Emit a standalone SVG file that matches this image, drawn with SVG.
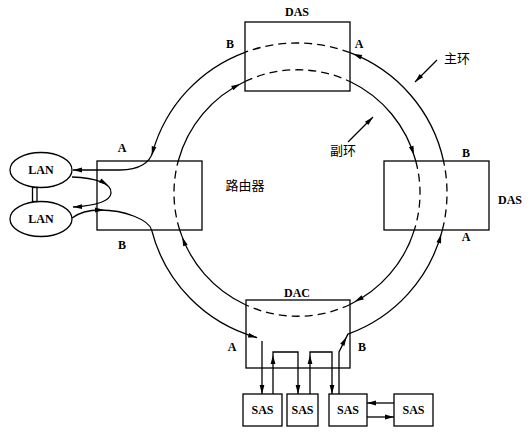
<svg xmlns="http://www.w3.org/2000/svg" width="531" height="434" viewBox="0 0 531 434">
<style>
.bx{fill:#fff;stroke:#000;stroke-width:1.3}
.ln{fill:none;stroke:#000;stroke-width:1.3}
.ds{fill:none;stroke:#000;stroke-width:1.3;stroke-dasharray:8 5}
.lb{font-family:"Liberation Serif",serif;font-weight:bold;font-size:12px;text-anchor:middle;fill:#000}
.cj{font-family:"Noto Sans CJK SC",sans-serif;font-size:13px;text-anchor:middle;fill:#000}
</style>
<defs>
<path id="ah" d="M0,0 L-9,-2.4 L-9,2.4 Z" fill="#000"/>
</defs>
<rect width="531" height="434" fill="#fff"/>
<g id="das-top"><rect class="bx" x="245" y="22" width="105" height="69"/><text class="lb" x="297" y="16">DAS</text><text class="lb" x="230" y="48">B</text><text class="lb" x="359" y="48">A</text></g>
<g id="das-right"><rect class="bx" x="384" y="161" width="105" height="69"/><text class="lb" x="466" y="157">B</text><text class="lb" x="510" y="204">DAS</text><text class="lb" x="466" y="241">A</text></g>
<g id="router"><rect class="bx" x="97" y="161" width="105" height="69"/><text class="lb" x="122" y="152">A</text><text class="lb" x="122" y="249">B</text><text class="cj" x="245" y="190">路由器</text></g>
<g id="dac"><rect class="bx" x="246" y="300" width="104" height="68"/><text class="lb" x="297" y="297">DAC</text><text class="lb" x="232" y="351">A</text><text class="lb" x="362" y="351">B</text></g>
<g id="lan1"><ellipse class="bx" cx="41" cy="170" rx="31" ry="17.5"/><text class="lb" x="41" y="174">LAN</text></g>
<g id="lan2"><ellipse class="bx" cx="41" cy="219" rx="31" ry="17.5"/><text class="lb" x="41" y="223">LAN</text></g>
<g id="lan-link"><rect class="bx" x="32.5" y="187.5" width="4.5" height="14"/></g>
<g id="sas1"><rect class="bx" x="243" y="394" width="39" height="32"/><text class="lb" x="262.5" y="414">SAS</text></g>
<g id="sas2"><rect class="bx" x="287" y="394" width="31" height="32"/><text class="lb" x="302.5" y="414">SAS</text></g>
<g id="sas3"><rect class="bx" x="329" y="394" width="38" height="32"/><text class="lb" x="348" y="414">SAS</text></g>
<g id="sas4"><rect class="bx" x="394" y="394" width="39" height="32"/><text class="lb" x="413.5" y="414">SAS</text></g>
<g id="labels"><text class="cj" x="457" y="63">主环</text><text class="cj" x="343" y="155">副环</text></g>
<g id="connectors">
<!-- outer (primary) ring -->
<path class="ln" d="M339,394 L339,352 L347.9,334.1 A150,150 0 0 0 442.35,230.05"/>
<path class="ds" d="M442.35,230.05 A150,150 0 0 0 443.55,161.04"/>
<path class="ln" d="M443.55,161.04 A150,150 0 0 0 350.02,52.68"/>
<path class="ds" d="M350.02,52.68 A150,150 0 0 0 244.96,52.31"/>
<path class="ln" d="M244.96,52.31 A150,150 0 0 0 152.67,152.16 C150,162 140,170 120,170 L73,170"/>
<path class="ln" d="M72,177 C95,178 112,183 111,193 C110,203 90,206 73,207"/>
<path class="ln" d="M72,218 C80,212 90,210 100,210 C125,210 149,220 151.65,230.05 A150,150 0 0 0 257.16,337.62"/>
<path class="ln" d="M262,341 L262,394"/>
<path class="ln" d="M273,394 L273,352 L298,352 L298,394"/>
<path class="ln" d="M310,394 L310,352 L332,352 L332,394"/>
<path class="ln" d="M394,403 L367,403"/>
<path class="ln" d="M367,417 L394,417"/>
<!-- inner (secondary) ring -->
<path class="ln" d="M245,304.47 A123,123 0 0 1 179.69,230"/>
<path class="ds" d="M179.69,230 A123,123 0 0 1 178.23,161"/>
<path class="ln" d="M178.23,161 A123,123 0 0 1 245,81.53"/>
<path class="ds" d="M245,81.53 A123,123 0 0 1 350,81.53"/>
<path class="ln" d="M350,81.53 A123,123 0 0 1 415.77,161"/>
<path class="ds" d="M415.77,161 A123,123 0 0 1 414.31,230"/>
<path class="ln" d="M414.31,230 A123,123 0 0 1 350,304.47"/>
<path class="ds" d="M350,304.47 A123,123 0 0 1 245,304.47"/>
<!-- pointers -->
<path class="ln" d="M437,60 L415,82"/>
<path class="ln" d="M348,142 L373,117"/>
<!-- arrowheads -->
<use href="#ah" transform="translate(353,53.8) rotate(-158)"/>
<use href="#ah" transform="translate(441.2,234.3) rotate(-74)"/>
<use href="#ah" transform="translate(151.8,155.4) rotate(104.5)"/>
<use href="#ah" transform="translate(73,170) rotate(180)"/>
<use href="#ah" transform="translate(108,185) rotate(30)"/>
<use href="#ah" transform="translate(73,207) rotate(178)"/>
<use href="#ah" transform="translate(104,210) rotate(0)"/>
<use href="#ah" transform="translate(257.16,337.62) rotate(15.4)"/>
<use href="#ah" transform="translate(262,394) rotate(90)"/>
<use href="#ah" transform="translate(273,355) rotate(-90)"/>
<use href="#ah" transform="translate(298,394) rotate(90)"/>
<use href="#ah" transform="translate(310,355) rotate(-90)"/>
<use href="#ah" transform="translate(332,394) rotate(90)"/>
<use href="#ah" transform="translate(346.5,337) rotate(-62)"/>
<use href="#ah" transform="translate(367,403) rotate(180)"/>
<use href="#ah" transform="translate(394,417) rotate(0)"/>
<use href="#ah" transform="translate(182.2,237.1) rotate(249)"/>
<use href="#ah" transform="translate(240.2,83.9) rotate(-27.5)"/>
<use href="#ah" transform="translate(414,155) rotate(72)"/>
<use href="#ah" transform="translate(354.7,301.6) rotate(152)"/>
<use href="#ah" transform="translate(415,82) rotate(135)"/>
<use href="#ah" transform="translate(373,117) rotate(-45)"/>
</g>
</svg>
